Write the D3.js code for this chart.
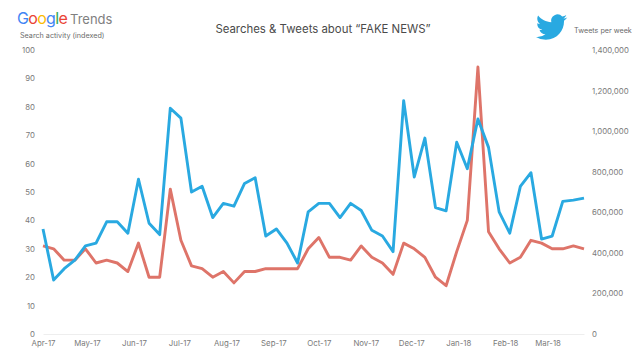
<!DOCTYPE html>
<html>
<head>
<meta charset="utf-8">
<style>
  html, body { margin: 0; padding: 0; background: #fff; }
  svg { display: block; font-family: Inter, Lato, sans-serif; }
</style>
</head>
<body>
<svg id="chart" width="640" height="360"></svg>
<script src="https://cdn.jsdelivr.net/npm/d3@7/dist/d3.min.js"></script>
<script>
const monthLabels = ["Apr-17", "May-17", "Jun-17", "Jul-17", "Aug-17", "Sep-17", "Oct-17", "Nov-17", "Dec-17", "Jan-18", "Feb-18", "Mar-18"];
const searchTicks = [0, 10, 20, 30, 40, 50, 60, 70, 80, 90, 100];
const tweetTicks = [0, 200000, 400000, 600000, 800000, 1000000, 1200000, 1400000];

// Google search index, weekly
const searches = [31, 30, 26, 26, 30, 25, 26, 25, 22, 32, 20, 20, 51, 33, 24, 23, 20, 22, 18, 22, 22, 23, 23, 23, 23, 30,
  34, 27, 27, 26, 31, 27, 25, 21, 32, 30, 27, 20, 17, 29, 40, 94, 36, 30, 25, 27, 33, 32, 30, 30, 31, 30];

// Tweets per week, read against the right axis
const tweets = [518000, 266000, 322000, 364000, 434000, 448000, 553000, 553000, 497000, 763000, 546000, 490000, 1113000, 1064000,
  700000, 728000, 574000, 644000, 630000, 742000, 770000, 483000, 518000, 448000, 350000, 602000,
  644000, 644000, 574000, 644000, 609000, 511000, 483000, 406000, 1150000, 774000, 966000, 623000, 607000, 945000, 815000, 1060000,
  920000, 602000, 497000, 728000, 795000, 468000, 483000, 654000, 660000, 670000];

const svg = d3.select("#chart");
const margin = { top: 50, right: 56, bottom: 26, left: 43 };
const innerWidth = 640 - margin.left - margin.right;
const innerHeight = 360 - margin.top - margin.bottom;

const g = svg.append("g")
  .attr("transform", `translate(${margin.left},${margin.top})`);

const parseMonth = d3.timeParse("%b-%y");
const firstWeek = new Date(2017, 3, 2);
const weeks = searches.map((d, i) => d3.timeDay.offset(firstWeek, i * 7));

const x = d3.scaleTime()
  .domain(d3.extent(weeks))
  .range([0, innerWidth])
  .clamp(true);

const ySearch = d3.scaleLinear().domain([0, 100]).range([innerHeight, 0]);
const yTweets = d3.scaleLinear().domain([0, 1400000]).range([innerHeight, 0]);

// X axis
const xAxis = g.append("g")
  .attr("transform", `translate(0,${innerHeight})`)
  .call(d3.axisBottom(x)
    .tickValues(monthLabels.map(parseMonth))
    .tickFormat(d3.timeFormat("%b-%y"))
    .tickSize(0)
    .tickPadding(6));
xAxis.select(".domain").attr("stroke", "#eeeeee");

// Left axis
const leftAxis = g.append("g")
  .call(d3.axisLeft(ySearch).tickValues(searchTicks).tickSize(0).tickPadding(8));
leftAxis.select(".domain").remove();

// Right axis
const rightAxis = g.append("g")
  .attr("transform", `translate(${innerWidth},0)`)
  .call(d3.axisRight(yTweets).tickValues(tweetTicks).tickFormat(d3.format(",")).tickSize(0).tickPadding(8));
rightAxis.select(".domain").remove();

svg.selectAll(".tick text")
  .attr("font-family", "Inter, Lato, sans-serif")
  .attr("font-size", 7.8)
  .attr("fill", "#7a7a7a");

// Lines
const searchLine = d3.line().x((d, i) => x(weeks[i])).y(d => ySearch(d));
const tweetLine = d3.line().x((d, i) => x(weeks[i])).y(d => yTweets(d));

g.append("path")
  .datum(searches)
  .attr("fill", "none")
  .attr("stroke", "#de7469")
  .attr("stroke-width", 2.9)
  .attr("stroke-linejoin", "round")
  .attr("d", searchLine);

g.append("path")
  .datum(tweets)
  .attr("fill", "none")
  .attr("stroke", "#29a9e1")
  .attr("stroke-width", 2.9)
  .attr("stroke-linejoin", "round")
  .attr("d", tweetLine);

// Title
svg.append("text")
  .attr("x", 323)
  .attr("y", 33)
  .attr("text-anchor", "middle")
  .attr("font-size", 11.4)
  .attr("fill", "#4a4a4a")
  .text("Searches & Tweets about “FAKE NEWS”");

// Google Trends logo
const logo = svg.append("text")
  .attr("x", 17)
  .attr("y", 24)
  .attr("font-size", 16)
  .attr("letter-spacing", -0.7);
[["G", "#4285f4"], ["o", "#ea4335"], ["o", "#fbbc05"], ["g", "#4285f4"], ["l", "#34a853"], ["e", "#ea4335"]]
  .forEach(d => logo.append("tspan").attr("fill", d[1]).text(d[0]));

svg.append("text")
  .attr("x", 70)
  .attr("y", 24)
  .attr("font-size", 13)
  .attr("fill", "#808080")
  .text("Trends");

svg.append("text")
  .attr("x", 20)
  .attr("y", 38)
  .attr("font-size", 7.2)
  .attr("fill", "#6a6a6a")
  .text("Search activity (indexed)");

// Twitter bird
svg.append("path")
  .attr("transform", "translate(536,11.5) scale(1.3)")
  .attr("fill", "#29a9e1")
  .attr("d", "M23.953 4.57a10 10 0 01-2.825.775 4.958 4.958 0 002.163-2.723c-.951.555-2.005.959-3.127 1.184a4.92 4.92 0 00-8.384 4.482C7.69 8.095 4.067 6.13 1.64 3.162a4.822 4.822 0 00-.666 2.475c0 1.71.87 3.213 2.188 4.096a4.904 4.904 0 01-2.228-.616v.06a4.923 4.923 0 003.946 4.827 4.996 4.996 0 01-2.212.085 4.936 4.936 0 004.604 3.417 9.867 9.867 0 01-6.102 2.105c-.39 0-.779-.023-1.17-.067a13.995 13.995 0 007.557 2.209c9.053 0 13.998-7.496 13.998-13.985 0-.21 0-.42-.015-.63A9.935 9.935 0 0024 4.59z");

svg.append("text")
  .attr("x", 574)
  .attr("y", 33)
  .attr("font-size", 7.2)
  .attr("fill", "#6a6a6a")
  .text("Tweets per week");
</script>
</body>
</html>
